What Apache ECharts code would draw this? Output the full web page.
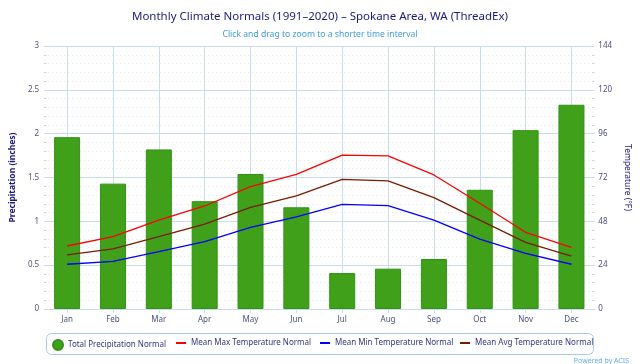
<!DOCTYPE html>
<html><head><meta charset="utf-8">
<script src="https://cdn.jsdelivr.net/npm/echarts@6/dist/echarts.min.js"></script>
<style>html,body{margin:0;padding:0;background:#fff}#c{width:640px;height:364px}</style>
</head><body><div id="c"></div>
<script>
const months = ['Jan','Feb','Mar','Apr','May','Jun','Jul','Aug','Sep','Oct','Nov','Dec'];
const precip = [1.96,1.43,1.82,1.23,1.54,1.16,0.41,0.46,0.57,1.36,2.04,2.33];
const maxTemp = [34.5,39.6,48.7,56.4,67.0,73.7,84.3,83.8,73.4,57.9,42.0,33.8];
const minTemp = [24.5,26.1,31.4,36.9,44.7,50.5,57.3,56.6,48.7,38.3,30.5,24.5];
const avgTemp = [29.6,32.9,39.6,46.5,55.7,61.9,71.0,70.1,61.0,48.7,36.5,29.0];
const precipTicks = [0,0.5,1,1.5,2,2.5,3];
const tempTicks = [0,24,48,72,96,120,144];
const seriesNames = ['Total Precipitation Normal','Mean Max Temperature Normal','Mean Min Temperature Normal','Mean Avg Temperature Normal'];

const FONT = 'Noto Sans';
const labelColor = '#4d4d80';
const gridColor = '#c9dcef';
const legendText = {fontFamily:FONT, fontSize:8, color:'#333380'};
const lineLegend = (name, left) => ({left:left, top:339, padding:0, itemWidth:10, itemHeight:2, icon:'rect',
   textStyle:Object.assign({}, legendText, {padding:[1,0,0,0]}), data:[name]});
const chart = echarts.init(document.getElementById('c'), null, {renderer:'canvas'});
chart.setOption({
  animation:false,
  textStyle:{fontFamily:FONT},
  title:[
    {text:'Monthly Climate Normals (1991\u20132020) \u2013 Spokane Area, WA (ThreadEx)', left:'center', top:6,
     textStyle:{fontFamily:FONT, fontSize:11.5, fontWeight:'normal', color:'#1a1a80'}},
    {text:'Click and drag to zoom to a shorter time interval', left:'center', top:25,
     textStyle:{fontFamily:FONT, fontSize:8.6, fontWeight:'normal', color:'#3d9be0'}},
    {text:'Powered by ACIS', right:6, top:352,
     textStyle:{fontFamily:FONT, fontSize:7, fontWeight:'normal', color:'#5aaee8'}}
  ],
  graphic:[{type:'rect', shape:{x:46.5, y:333.5, width:547, height:21, r:5},
            style:{fill:'none', stroke:'#a7c8e6', lineWidth:1}, silent:true}],
  grid:{left:40, right:43, top:46, bottom:55},
  legend:[
    {left:52, top:339, padding:0, itemWidth:10, itemHeight:10,
     textStyle:legendText, data:[{name:seriesNames[0], icon:'circle'}]},
    lineLegend(seriesNames[1], 176),
    lineLegend(seriesNames[2], 320),
    lineLegend(seriesNames[3], 460)
  ],
  xAxis:{
    type:'category', data:months, boundaryGap:true,
    axisLine:{show:true, lineStyle:{color:gridColor, width:1}},
    axisTick:{show:true, alignWithLabel:true, length:4, lineStyle:{color:gridColor}},
    axisLabel:{fontFamily:FONT, fontSize:8, color:labelColor, margin:7},
    splitLine:{show:true, alignWithLabel:true, lineStyle:{color:gridColor, width:1}}
  },
  yAxis:[
    {type:'value', min:precipTicks[0], max:precipTicks[precipTicks.length-1], interval:0.5,
     name:'Precipitation (inches)', nameLocation:'middle', nameGap:21, nameRotate:90,
     nameTextStyle:{fontFamily:FONT, fontSize:8.5, color:'#1a1a80', fontWeight:'bold'},
     axisLine:{show:false},
     axisTick:{show:true, inside:true, length:5, lineStyle:{color:gridColor}},
     minorTick:{show:true, splitNumber:5, length:2, lineStyle:{color:'#ccc'}},
     minorSplitLine:{show:true, lineStyle:{color:'#e6e6e6', type:[1,3]}},
     axisLabel:{fontFamily:FONT, fontSize:8, color:labelColor, margin:5, formatter:v=>String(v)},
     splitLine:{show:true, lineStyle:{color:gridColor, width:1}}},
    {type:'value', min:tempTicks[0], max:tempTicks[tempTicks.length-1], interval:24,
     name:'Temperature (\u00b0F)', nameLocation:'middle', nameGap:24, nameRotate:-90,
     nameTextStyle:{fontFamily:FONT, fontSize:8.5, color:'#1a1a80', fontWeight:'normal'},
     axisLine:{show:false},
     axisTick:{show:true, inside:true, length:5, lineStyle:{color:gridColor}},
     minorTick:{show:true, splitNumber:5, length:2, lineStyle:{color:'#ccc'}},
     axisLabel:{fontFamily:FONT, fontSize:8, color:labelColor, margin:4},
     splitLine:{show:false}}
  ],
  series:[
    {name:seriesNames[0], type:'bar', yAxisIndex:0, data:precip, barWidth:26,
     itemStyle:{color:'#41a01a', borderColor:'#2e9412', borderWidth:1}},
    {name:seriesNames[1], type:'line', yAxisIndex:1, data:maxTemp, symbol:'none',
     lineStyle:{color:'#ff0000', width:1.3}, itemStyle:{color:'#ff0000'}},
    {name:seriesNames[2], type:'line', yAxisIndex:1, data:minTemp, symbol:'none',
     lineStyle:{color:'#0000ff', width:1.3}, itemStyle:{color:'#0000ff'}},
    {name:seriesNames[3], type:'line', yAxisIndex:1, data:avgTemp, symbol:'none',
     lineStyle:{color:'#7a1c00', width:1.3}, itemStyle:{color:'#7a1c00'}}
  ]
});
</script></body></html>
